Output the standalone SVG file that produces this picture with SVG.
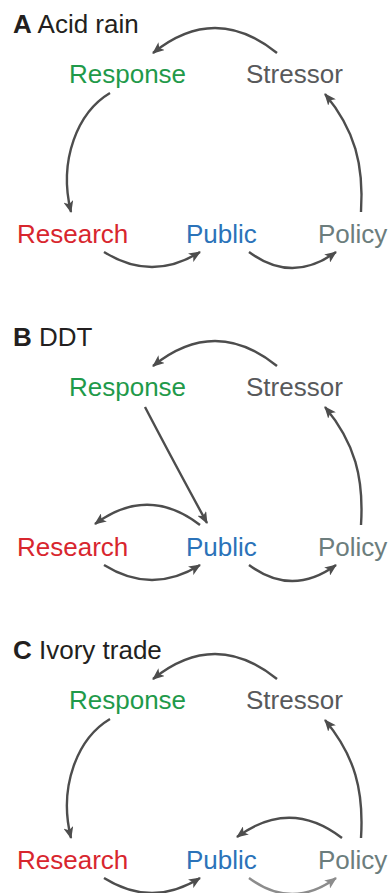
<svg xmlns="http://www.w3.org/2000/svg" width="388" height="893" viewBox="0 0 388 893">
<style>
text{font-family:"Liberation Sans",Arial,sans-serif;font-size:26px}
.t{font-size:26px;fill:#231f20}
.t tspan.b{font-weight:bold}
.resp{fill:#1f9a4a}
.str{fill:#58595b}
.res{fill:#d8262e}
.pub{fill:#2b73b9}
.pol{fill:#6c7d7d}
.c{fill:none;stroke:#4d4d4d;stroke-width:2.4;marker-end:url(#ah)}
.c.l{stroke:#8c8c8c;marker-end:url(#ahl)}
</style>
<defs>
<marker id="ah" markerUnits="userSpaceOnUse" markerWidth="13" markerHeight="10" refX="11" refY="5" orient="auto" viewBox="0 0 13 10">
<path d="M0,0 L12,5 L0,10 L3,5 z" fill="#4d4d4d"/>
</marker>
<marker id="ahl" markerUnits="userSpaceOnUse" markerWidth="13" markerHeight="10" refX="11" refY="5" orient="auto" viewBox="0 0 13 10">
<path d="M0,0 L12,5 L0,10 L3,5 z" fill="#8c8c8c"/>
</marker>
</defs>

<!-- Panel A -->
<g id="panelA">
<text class="t" x="13" y="33"><tspan class="b">A</tspan> Acid rain</text>
<g id="A-response"><text class="resp" x="69" y="83">Response</text></g>
<g id="A-stressor"><text class="str" x="246" y="83">Stressor</text></g>
<g id="A-research"><text class="res" x="17" y="243">Research</text></g>
<g id="A-public"><text class="pub" x="186" y="243">Public</text></g>
<g id="A-policy"><text class="pol" x="318" y="243">Policy</text></g>
<g id="A-connectors">
<path class="c" d="M277,53 Q215,3 153,53"/>
<path class="c" d="M110,93 C78,112 58,160 71,212"/>
<path class="c" d="M104,252 Q152,282 200,252"/>
<path class="c" d="M249,252 Q292,284 336,252"/>
<path class="c" d="M361,212 C364,165 355,130 325,94"/>
</g>
</g>

<!-- Panel B -->
<g id="panelB">
<text class="t" x="13" y="346"><tspan class="b">B</tspan> DDT</text>
<g id="B-response"><text class="resp" x="69" y="396">Response</text></g>
<g id="B-stressor"><text class="str" x="246" y="396">Stressor</text></g>
<g id="B-research"><text class="res" x="17" y="556">Research</text></g>
<g id="B-public"><text class="pub" x="186" y="556">Public</text></g>
<g id="B-policy"><text class="pol" x="318" y="556">Policy</text></g>
<g id="B-connectors">
<path class="c" d="M277,366 Q215,316 153,366"/>
<path class="c" d="M145,407 Q170,455 207,523"/>
<path class="c" d="M200,525 Q148,485 95,524"/>
<path class="c" d="M104,565 Q152,595 200,565"/>
<path class="c" d="M249,565 Q292,597 336,565"/>
<path class="c" d="M361,525 C364,478 355,443 325,407"/>
</g>
</g>

<!-- Panel C -->
<g id="panelC">
<text class="t" x="13" y="659"><tspan class="b">C</tspan> Ivory trade</text>
<g id="C-response"><text class="resp" x="69" y="709">Response</text></g>
<g id="C-stressor"><text class="str" x="246" y="709">Stressor</text></g>
<g id="C-research"><text class="res" x="17" y="869">Research</text></g>
<g id="C-public"><text class="pub" x="186" y="869">Public</text></g>
<g id="C-policy"><text class="pol" x="318" y="869">Policy</text></g>
<g id="C-connectors">
<path class="c" d="M277,679 Q215,629 153,679"/>
<path class="c" d="M110,719 C78,738 58,786 71,838"/>
<path class="c" d="M104,878 Q152,908 200,878"/>
<path class="c l" d="M249,878 Q292,910 336,878"/>
<path class="c" d="M342,838 Q290,798 237,837"/>
<path class="c" d="M361,838 C364,791 355,756 325,720"/>
</g>
</g>
</svg>
